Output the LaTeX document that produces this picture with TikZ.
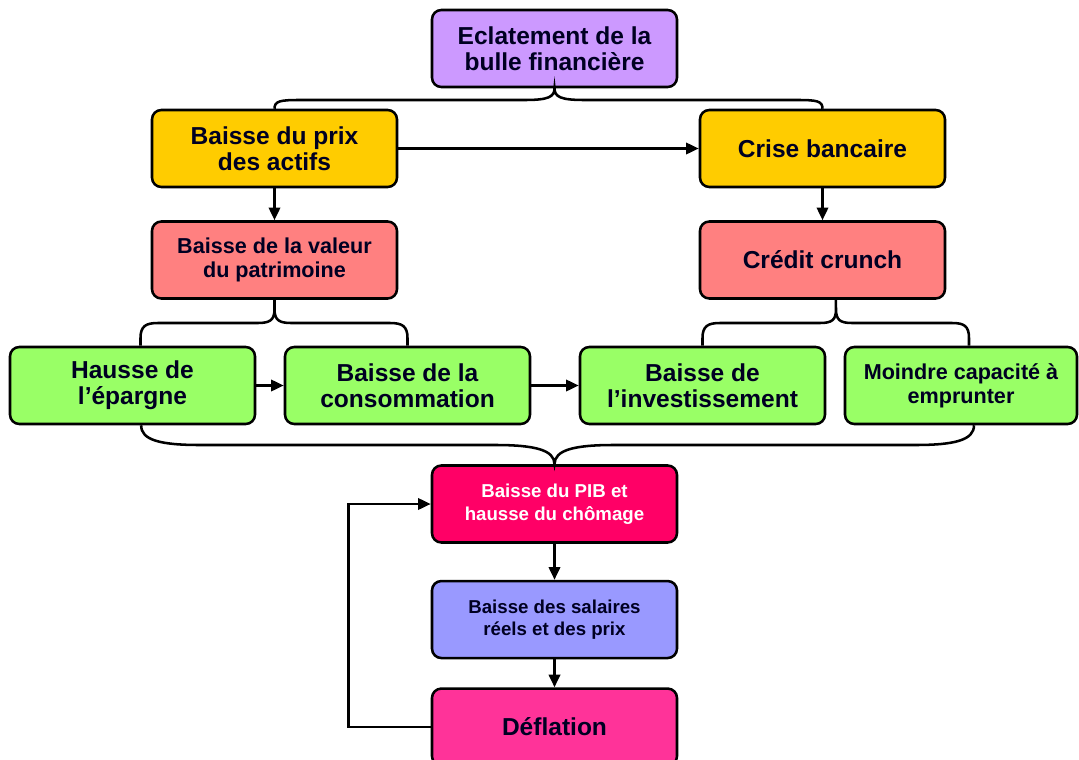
\documentclass[tikz,border=0pt]{standalone}
\usepackage{fontspec}
\setmainfont{Liberation Sans}
\usetikzlibrary{positioning}
\usetikzlibrary{arrows.meta}
\definecolor{mauve}{HTML}{CC99FF}
\definecolor{jaune}{HTML}{FFCC00}
\definecolor{saumon}{HTML}{FF8080}
\definecolor{vert}{HTML}{99FF66}
\definecolor{framboise}{HTML}{FF0066}
\definecolor{lavande}{HTML}{9999FF}
\definecolor{rose}{HTML}{FF3399}
\definecolor{encre}{HTML}{000022}
\tikzset{>={Triangle[length=9.5pt,width=8.5pt]}}
\tikzset{blk/.style={draw=black, line width=1.9pt, rounded corners=7pt, minimum width=183.75pt, minimum height=57.75pt, inner sep=2pt, align=center, text=encre}}
\tikzset{bigf/.style={font=\fontsize{18.4}{19.5}\selectfont\bfseries}}
\tikzset{medf/.style={font=\fontsize{16.2}{18}\selectfont\bfseries}}
\tikzset{smf/.style={font=\fontsize{14}{17}\selectfont\bfseries}}
\tikzset{lnk/.style={line width=1.9pt}}

\begin{document}
\begin{tikzpicture}[x=0.75pt, y=-0.75pt]
\useasboundingbox (0,0) rectangle (1079,760);

\node (ecl) [blk, bigf, fill=mauve] at (554.5,48.5) {Eclatement de la\\bulle financière};
\node (prix) [blk, bigf, fill=jaune] at (274.5,148.5) {Baisse du prix\\des actifs};
\node (crise) [blk, bigf, fill=jaune] at (822.5,148.5) {Crise bancaire};
\node (val) [blk, medf, fill=saumon] at (274.5,260) {Baisse de la valeur\\du patrimoine};
\node (crunch) [blk, bigf, fill=saumon] at (822.5,260) {Crédit crunch};
\node (epargne) [blk, bigf, fill=vert] at (132.5,385.5) {Hausse de\\l’épargne};
\node (conso) [blk, bigf, fill=vert] at (407.5,385.5) {Baisse de la\\consommation};
\node (invest) [blk, bigf, fill=vert] at (702.5,385.5) {Baisse de\\l’investissement};
\node (moindre) [blk, medf, fill=vert, minimum width=174pt] at (961,385.5) {Moindre capacité à\\emprunter};
\node (pib) [blk, smf, fill=framboise, text=white] at (554.5,504) {Baisse du PIB et\\hausse du chômage};
\node (sal) [blk, smf, fill=lavande, below = 27pt of pib] {Baisse des salaires\\réels et des prix};
\node (defl) [blk, bigf, fill=rose, below = 21pt of sal] {Déflation};
\coordinate (boucle) at ([xshift=-61.5pt]pib.west);

% accolades
\draw[lnk] (prix.north) .. controls (274.5,101) and (280,100) .. (300,100) -- (525,100)
  .. controls (548,100) and (554.5,97) .. (ecl.south) .. controls (554.5,97) and (561,100) .. (584,100)
  -- (797,100) .. controls (817,100) and (822.5,101) .. (crise.north);
\draw[lnk] ([xshift=6pt]epargne.north) -- (140.5,338) .. controls (140.5,326) and (146,323) .. (158,323) -- (258,323)
  .. controls (270,323) and (274.5,320) .. (274.5,309) -- (val.south) -- (274.5,309)
  .. controls (274.5,320) and (279,323) .. (291,323) -- (390,323)
  .. controls (402,323) and (407.5,326) .. (407.5,338) -- (conso.north);
\draw[lnk] (invest.north) -- (702.5,338) .. controls (702.5,326) and (708,323) .. (720,323) -- (820,323)
  .. controls (832,323) and (836,320) .. (836,309) -- ([xshift=10pt]crunch.south) -- (836,309)
  .. controls (836,320) and (840,323) .. (852,323) -- (952,323)
  .. controls (964,323) and (969,326) .. (969,338) -- ([xshift=6pt]moindre.north);
\draw[lnk] ([xshift=6.5pt]epargne.south) .. controls (141,440) and (160,445) .. (200,445) -- (495,445)
  .. controls (535,445) and (554.5,450) .. (pib.north) .. controls (554.5,450) and (574,445) .. (614,445)
  -- (915,445) .. controls (955,445) and (974,440) .. ([xshift=9.75pt]moindre.south);

% fleches
\draw[lnk, ->] (prix) -- (crise);
\draw[lnk, ->] (prix) -- (val);
\draw[lnk, ->] (crise) -- (crunch);
\draw[lnk, ->] (epargne) -- (conso);
\draw[lnk, ->] (conso) -- (invest);
\draw[lnk, ->] (pib) -- (sal);
\draw[lnk, ->] (sal) -- (defl);
\draw[lnk, ->] (defl.west) -| (boucle) -- (pib.west);
\end{tikzpicture}
\end{document}
